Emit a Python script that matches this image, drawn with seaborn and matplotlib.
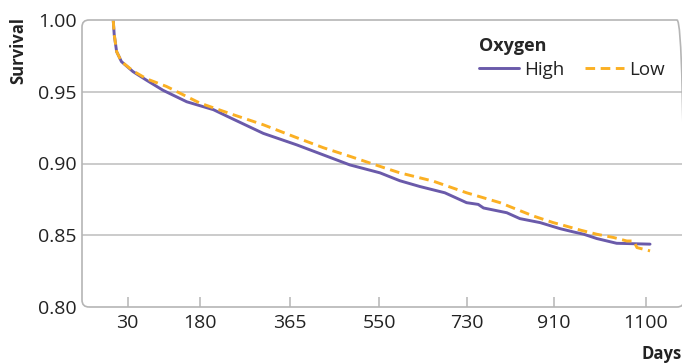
import pandas as pd
import matplotlib.pyplot as plt
import seaborn as sns
from matplotlib.patches import FancyBboxPatch
from matplotlib.transforms import IdentityTransform

# Kaplan-Meier style survival
high_days = [0, 2, 7, 17, 41, 69, 103, 152, 207, 241, 310, 379, 434, 489, 551,
             592, 633, 685, 730, 754, 765, 813, 840, 882, 923, 951, 972, 999,
             1040, 1109]
high_surv = [1.000, 0.990, 0.978, 0.971, 0.964, 0.958, 0.951, 0.943, 0.9375,
             0.932, 0.921, 0.913, 0.906, 0.899, 0.8935, 0.888, 0.884, 0.8796,
             0.8727, 0.8715, 0.869, 0.8657, 0.8616, 0.8588, 0.8546, 0.8523,
             0.8507, 0.8477, 0.8444, 0.8438]

low_days = [0, 2, 7, 17, 41, 69, 110, 179, 248, 310, 379, 434, 489, 551, 592,
            661, 730, 799, 868, 909, 929, 966, 999, 1034, 1061, 1075, 1082, 1109]
low_surv = [1.000, 0.990, 0.978, 0.971, 0.9645, 0.959, 0.9537, 0.9421, 0.934,
            0.927, 0.918, 0.911, 0.905, 0.898, 0.8935, 0.8877, 0.8796, 0.8727,
            0.8634, 0.8588, 0.857, 0.8535, 0.8507, 0.8484, 0.846, 0.846,
            0.8414, 0.8391]

x_ticks = [30, 180, 365, 550, 730, 910, 1100]
y_ticks = [0.80, 0.85, 0.90, 0.95, 1.00]

df = pd.concat([
    pd.DataFrame({'Days': high_days, 'Survival': high_surv, 'Oxygen': 'High'}),
    pd.DataFrame({'Days': low_days, 'Survival': low_surv, 'Oxygen': 'Low'}),
])

sns.set_style('white')
plt.rcParams['font.family'] = ['Open Sans', 'DejaVu Sans']

fig = plt.figure(figsize=(6.82, 3.63), dpi=100)
ax = fig.add_axes([82 / 682, 1 - 307 / 363, 600 / 682, 287 / 363])

palette = {'High': '#6a5aaa', 'Low': '#fbb023'}
sns.lineplot(data=df, x='Days', y='Survival', hue='Oxygen', style='Oxygen',
             palette=palette, dashes={'High': '', 'Low': (3.3, 1.9)},
             linewidth=2.1, estimator=None, sort=False, ax=ax, zorder=3)

ax.set_xlim(-64.5, 1175)
ax.set_ylim(0.80, 1.00)
for v in [0.85, 0.90, 0.95]:
    ax.axhline(v, color='#bdbdbd', lw=1.1, zorder=1)

for s in ax.spines.values():
    s.set_visible(False)

# rounded frame around the plot area, right side runs off the canvas
frame = FancyBboxPatch((82, 363 - 307), 602, 287,
                       boxstyle='round,pad=0,rounding_size=7',
                       transform=IdentityTransform(), fill=False,
                       edgecolor='#b5b5b5', lw=1.2, zorder=5)
fig.add_artist(frame)

ax.set_xticks(x_ticks)
ax.set_xticklabels([str(t) for t in x_ticks])
ax.set_yticks(y_ticks)
ax.set_yticklabels([f'{t:.2f}' for t in y_ticks])
ax.tick_params(axis='x', direction='in', length=7, width=1.1, color='#b5b5b5',
               bottom=True, pad=5, labelsize=14, labelcolor='#222222')
ax.tick_params(axis='y', length=0, pad=4, labelsize=14, labelcolor='#222222')
ax.set_xlabel('')
ax.set_ylabel('')

fig.text(18 / 682, 1 - 51 / 363, 'Survival', rotation=90, ha='center',
         va='center', fontsize=12, fontweight='bold', color='#222222')
fig.text(682 / 682, 1 - 354 / 363, 'Days', ha='right', va='center',
         fontsize=12, fontweight='bold', color='#222222')

handles, labels = ax.get_legend_handles_labels()
leg = ax.legend(handles, labels, title='Oxygen', ncol=2, frameon=False,
                loc='upper left', bbox_to_anchor=(0.662, 0.94),
                borderaxespad=0, borderpad=0, handlelength=2.13,
                handletextpad=0.27, columnspacing=1.07, fontsize=13.5,
                labelspacing=0.2,
                title_fontproperties={'weight': 'bold', 'size': 13})
leg._legend_box.align = 'left'
leg._legend_box.sep = 4
for t in leg.get_texts():
    t.set_color('#222222')

fig.savefig('out.png', dpi=100)
